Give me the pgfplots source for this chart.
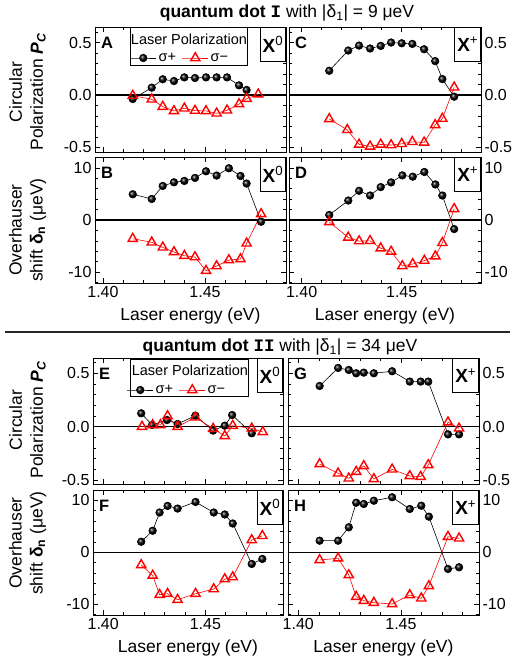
\documentclass[border=0pt]{standalone}
\usepackage{pgfplots}
\pgfplotsset{compat=1.18}
\usepackage{fontspec}
\setmainfont{Liberation Sans}
\setmonofont{Liberation Mono}
\usetikzlibrary{plotmarks}

\newcommand{\fs}[1]{\fontsize{#1}{#1}\selectfont}

\pgfplotsset{
  panel/.style={
    scale only axis,
    axis line style={line width=0.8pt},
    every tick/.style={black, line width=0.6pt},
    tick align=inside,
    major tick length=5pt,
    minor tick length=3pt,
    xtick={1.40,1.45},
    minor xtick={1.39,1.40,1.41,1.42,1.43,1.44,1.45,1.46,1.47,1.48,1.49},
    xticklabels={},
    tick label style={font=\fs{16}},
    label style={font=\fs{17.5}},
    xlabel style={yshift=-3pt},
    extra y ticks={0},
    extra y tick labels={},
    extra y tick style={grid=major, major tick length=0pt, major grid style={black, line width=1.3pt}},
  },
  thinzero/.style={extra y tick style={grid=major, major tick length=0pt, major grid style={black, line width=0.8pt}}},
  pcy/.style={ytick={-0.5,0,0.5}, yticklabels={-0.5,0.0,0.5},
    minor ytick={-0.5,-0.4,-0.3,-0.2,-0.1,0,0.1,0.2,0.3,0.4,0.5,0.6}},
  dny/.style={ytick={-10,0,10}, yticklabels={-10,0,10},
    minor ytick={-12,-10,-8,-6,-4,-2,0,2,4,6,8,10,12}},
  xlab/.style={xticklabels={1.40,1.45}, xlabel={Laser energy (eV)}},
  rlab/.style={yticklabel pos=right},
  splus/.style={black, line width=0.6pt, mark=ball, mark size=3.8pt, mark options={ball color=black}},
  sminus/.style={red, line width=0.6pt, mark=triangle, mark size=5.3pt, mark options={line width=1.4pt, fill=white, solid}},
  leg/.style={legend columns=2,
    legend style={at={(rel axis cs:#1)}, anchor=center, draw=none, fill=none, font=\fs{14.5},
      /tikz/every even column/.append style={column sep=4pt}, inner sep=0pt},
    legend image code/.code={\draw[##1, mark repeat=2, mark phase=2] plot coordinates {(0pt,0pt) (13pt,0pt) (26pt,0pt)};}},
}

\newcommand{\plab}[1]{\node[anchor=north west, inner sep=0pt, xshift=6pt, yshift=-9.5pt, font=\bfseries\fs{16.5}] at (rel axis cs:0,1) {#1};}
\newcommand{\xbox}[1]{\node[anchor=north east, draw, fill=white, line width=0.6pt, inner xsep=2.5pt, minimum height=34pt, font=\fs{19}] at (rel axis cs:1,1) {\textbf{X}\textsuperscript{#1}};}

\begin{document}
\begin{tikzpicture}
\path[use as bounding box] (0pt,0pt) rectangle (514pt,665pt);

% ---------------- quantum dot I ----------------
\node[font=\fs{17.5}] at (287pt,652pt) {\textbf{quantum dot} \texttt{\bfseries I} with |δ\textsubscript{1}| = 9 μeV};

% A
\begin{axis}[panel, pcy, at={(95pt,638pt)}, anchor=north west, width=191pt, height=125pt,
  xmin=1.3961, xmax=1.4897, ymin=-0.543, ymax=0.648, leg={0.445,0.752}]
\addplot[splus] coordinates {(1.4146,-0.038) (1.4239,0.070) (1.4293,0.150) (1.4348,0.133) (1.4399,0.168) (1.4451,0.162) (1.4505,0.168) (1.4557,0.168) (1.4608,0.168) (1.4667,0.092) (1.4704,0.048)};
\addlegendentry{σ+}
\addplot[sminus] coordinates {(1.4146,-0.006) (1.4239,-0.041) (1.4293,-0.111) (1.4348,-0.152) (1.4399,-0.127) (1.4451,-0.149) (1.4505,-0.152) (1.4557,-0.175) (1.4608,-0.146) (1.4667,-0.086) (1.4704,-0.035) (1.4761,0.007)};
\addlegendentry{σ−}
\draw[line width=0.6pt, fill=white] (rel axis cs:0.183,0.696) rectangle (rel axis cs:0.796,1);
\node[font=\fs{14.5}] at (rel axis cs:0.492,0.905) {Laser Polarization};
\plab{A}
\xbox{0}
\end{axis}

% C
\begin{axis}[panel, pcy, rlab, at={(289pt,638pt)}, anchor=north west, width=192pt, height=125pt,
  xmin=1.3937, xmax=1.4896, ymin=-0.543, ymax=0.648]
\addplot[splus] coordinates {(1.4138,0.231) (1.4233,0.424) (1.4287,0.471) (1.4342,0.443) (1.4395,0.468) (1.4447,0.500) (1.4500,0.493) (1.4553,0.487) (1.4612,0.436) (1.4667,0.323) (1.4703,0.152) (1.4762,-0.016)};
\addplot[sminus] coordinates {(1.4138,-0.228) (1.4228,-0.332) (1.4287,-0.471) (1.4342,-0.490) (1.4395,-0.471) (1.4447,-0.477) (1.4500,-0.465) (1.4553,-0.446) (1.4612,-0.452) (1.4667,-0.285) (1.4703,-0.225) (1.4762,0.073)};
\plab{C}
\xbox{+}
\end{axis}

% B
\begin{axis}[panel, dny, xlab, at={(95pt,508pt)}, anchor=north west, width=191pt, height=126pt,
  xmin=1.3961, xmax=1.4897, ymin=-12.1, ymax=12.1]
\addplot[splus] coordinates {(1.4146,4.94) (1.4239,4.04) (1.4293,6.54) (1.4348,7.24) (1.4399,7.50) (1.4451,8.08) (1.4505,9.36) (1.4557,8.53) (1.4617,9.94) (1.4674,8.46) (1.4704,7.00) (1.4775,-0.33)};
\addplot[sminus] coordinates {(1.4146,-3.59) (1.4239,-4.29) (1.4293,-5.26) (1.4348,-6.15) (1.4399,-6.86) (1.4451,-7.12) (1.4505,-9.74) (1.4557,-8.85) (1.4617,-7.69) (1.4674,-7.50) (1.4704,-4.49) (1.4775,1.15)};
\plab{B}
\xbox{0}
\end{axis}

% D
\begin{axis}[panel, dny, xlab, rlab, at={(289pt,508pt)}, anchor=north west, width=192pt, height=126pt,
  xmin=1.3937, xmax=1.4896, ymin=-12.1, ymax=12.1]
\addplot[splus] coordinates {(1.4138,0.97) (1.4233,3.74) (1.4287,5.61) (1.4342,4.70) (1.4395,6.32) (1.4447,7.22) (1.4503,8.57) (1.4555,8.32) (1.4613,9.22) (1.4668,6.83) (1.4703,4.70) (1.4762,-1.74)};
\addplot[sminus] coordinates {(1.4138,-0.39) (1.4233,-3.35) (1.4287,-4.06) (1.4342,-4.00) (1.4395,-5.42) (1.4447,-6.06) (1.4503,-8.84) (1.4555,-8.45) (1.4613,-7.80) (1.4668,-6.96) (1.4703,-4.39) (1.4762,2.13)};
\plab{D}
\xbox{+}
\end{axis}

\node[rotate=90, align=center, font=\fontsize{17.5}{21}\selectfont] at (27.5pt,573pt) {Circular\\Polarization {\bfseries\itshape P\textsubscript{C}}};
\node[rotate=90, align=center, font=\fontsize{17.5}{21}\selectfont] at (27.5pt,435pt) {Overhauser\\shift {\bfseries δ\textsubscript{n}} (μeV)};

\draw[line width=1.5pt, black!85] (5pt,333pt) -- (510pt,333pt);

% ---------------- quantum dot II ----------------
\node[font=\fs{17.5}] at (280pt,318pt) {\textbf{quantum dot} \texttt{\bfseries II} with |δ\textsubscript{1}| = 34 μeV};

% E
\begin{axis}[panel, thinzero, pcy, at={(93pt,307pt)}, anchor=north west, width=190pt, height=126pt,
  xmin=1.395, xmax=1.488, ymin=-0.537, ymax=0.643, leg={0.442,0.746}]
\addplot[splus] coordinates {(1.4186,0.125) (1.4239,0.016) (1.4312,0.062) (1.4364,0.025) (1.4451,0.103) (1.4538,-0.037) (1.4595,0.009) (1.4631,0.109) (1.4727,-0.062)};
\addlegendentry{σ+}
\addplot[sminus] coordinates {(1.4190,0.000) (1.4242,0.016) (1.4280,0.016) (1.4315,0.100) (1.4364,0.000) (1.4451,0.087) (1.4538,-0.019) (1.4595,-0.087) (1.4634,0.009) (1.4727,-0.016) (1.4781,-0.050)};
\addlegendentry{σ−}
\draw[line width=0.6pt, fill=white] (rel axis cs:0.198,0.693) rectangle (rel axis cs:0.817,0.99);
\node[font=\fs{14.5}] at (rel axis cs:0.51,0.9) {Laser Polarization};
\plab{E}
\xbox{0}
\end{axis}

% G
\begin{axis}[panel, thinzero, pcy, rlab, at={(288pt,307pt)}, anchor=north west, width=191pt, height=126pt,
  xmin=1.395, xmax=1.488, ymin=-0.537, ymax=0.643]
\addplot[splus] coordinates {(1.4104,0.381) (1.4194,0.550) (1.4246,0.531) (1.4282,0.500) (1.4319,0.506) (1.4368,0.500) (1.4457,0.519) (1.4543,0.422) (1.4596,0.422) (1.4633,0.422) (1.4729,-0.072) (1.4783,-0.072)};
\addplot[sminus] coordinates {(1.4104,-0.350) (1.4194,-0.437) (1.4246,-0.484) (1.4282,-0.422) (1.4319,-0.368) (1.4368,-0.490) (1.4457,-0.400) (1.4543,-0.462) (1.4596,-0.469) (1.4633,-0.359) (1.4729,0.041) (1.4783,-0.016)};
\plab{G}
\xbox{+}
\end{axis}

% F
\begin{axis}[panel, thinzero, dny, xlab, at={(93pt,175pt)}, anchor=north west, width=190pt, height=125pt,
  xmin=1.395, xmax=1.488, ymin=-12.06, ymax=11.98]
\addplot[splus] coordinates {(1.4186,2.03) (1.4242,4.14) (1.4276,7.65) (1.4315,8.92) (1.4364,8.41) (1.4452,9.68) (1.4541,7.65) (1.4595,7.27) (1.4634,5.54) (1.4727,-2.24) (1.4779,-1.28)};
\addplot[sminus] coordinates {(1.4186,-2.43) (1.4242,-4.47) (1.4276,-8.16) (1.4315,-7.97) (1.4364,-9.12) (1.4452,-7.97) (1.4541,-7.07) (1.4595,-5.16) (1.4634,-4.78) (1.4727,2.35) (1.4779,3.17)};
\plab{F}
\xbox{0}
\end{axis}

% H
\begin{axis}[panel, thinzero, dny, xlab, rlab, at={(288pt,175pt)}, anchor=north west, width=191pt, height=125pt,
  xmin=1.395, xmax=1.488, ymin=-12.06, ymax=11.98]
\addplot[splus] coordinates {(1.4104,2.23) (1.4194,2.23) (1.4246,4.81) (1.4282,9.54) (1.4319,9.29) (1.4368,9.92) (1.4457,10.58) (1.4543,8.33) (1.4599,8.96) (1.4636,6.85) (1.4729,-3.21) (1.4783,-2.88)};
\addplot[sminus] coordinates {(1.4104,-1.48) (1.4194,-1.15) (1.4246,-4.37) (1.4282,-8.54) (1.4319,-9.31) (1.4368,-9.69) (1.4457,-9.94) (1.4543,-8.21) (1.4599,-8.85) (1.4636,-6.48) (1.4729,3.00) (1.4783,2.69)};
\plab{H}
\xbox{+}
\end{axis}

\node[rotate=90, align=center, font=\fontsize{17.5}{21}\selectfont] at (27.5pt,245pt) {Circular\\Polarization {\bfseries\itshape P\textsubscript{C}}};
\node[rotate=90, align=center, font=\fontsize{17.5}{21}\selectfont] at (27.5pt,122pt) {Overhauser\\shift {\bfseries δ\textsubscript{n}} (μeV)};
\end{tikzpicture}
\end{document}
